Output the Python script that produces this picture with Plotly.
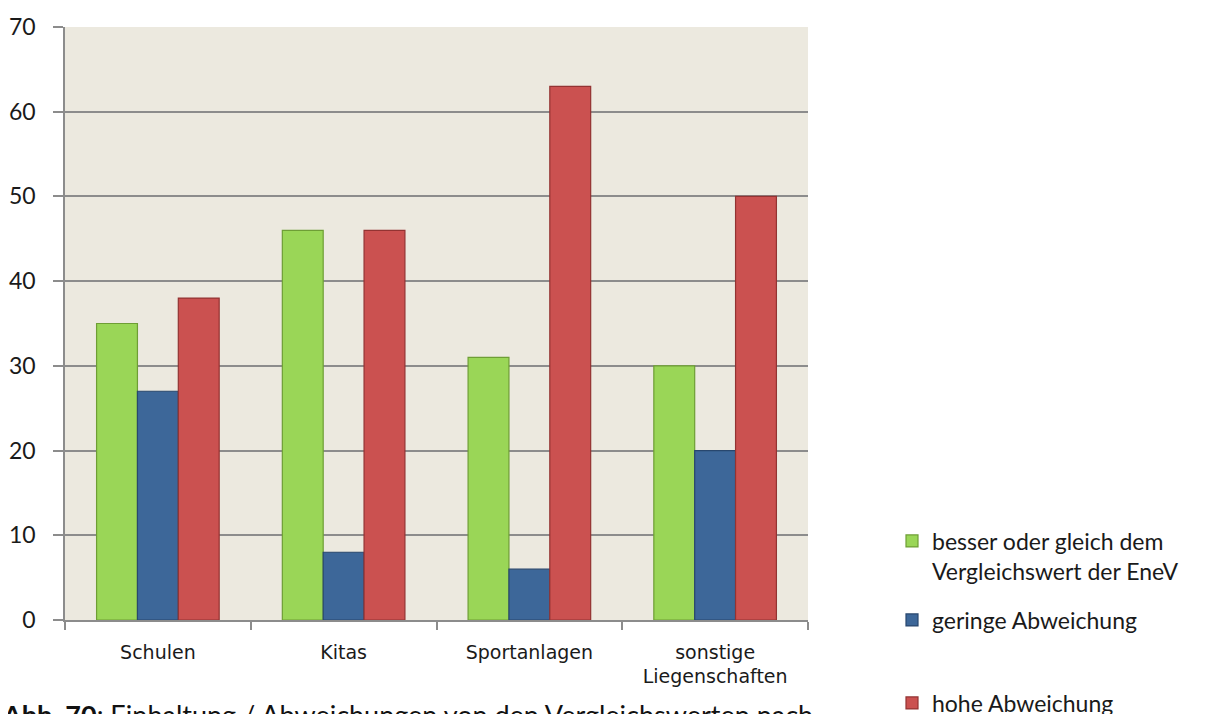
import plotly.graph_objects as go

categories = ["Schulen", "Kitas", "Sportanlagen", "sonstige<br>Liegenschaften"]
series_names = [
    "besser oder gleich dem<br>Vergleichswert der EneV",
    "geringe Abweichung",
    "hohe Abweichung",
]
besser = [35, 46, 31, 30]
gering = [27, 8, 6, 20]
hoch = [38, 46, 63, 50]
y_ticks = [0, 10, 20, 30, 40, 50, 60, 70]

colors = ["#9AD657", "#3D6799", "#CB5150"]
edges = ["#6E9E35", "#28476E", "#933332"]
values = [besser, gering, hoch]
legends = ["legend", "legend2", "legend3"]

fig = go.Figure()
for name, vals, c, e, lg in zip(series_names, values, colors, edges, legends):
    fig.add_trace(go.Bar(
        x=categories, y=vals, name=name,
        marker=dict(color=c, line=dict(color=e, width=1.2)),
        legend=lg,
    ))

legend_font = dict(family="Lato", size=23, color="#1a1a1a")
common_leg = dict(font=legend_font, bgcolor="rgba(0,0,0,0)", xanchor="left",
                  yanchor="middle", itemwidth=30, valign="top",
                  tracegroupgap=0, itemclick=False)

# page is offset by the default 8px body margin
OFF = 8
PLOT_TOP = 27 - OFF
PLOT_BOTTOM = 620 - OFF
PLOT_LEFT = 65 - OFF
PLOT_H = 593.0
PLOT_W = 743.0
FIG_W = 1219 - OFF
FIG_H = 714 - OFF


def py(page_y):
    return (620 - page_y) / PLOT_H


def px(page_x):
    return (page_x - 65) / PLOT_W


fig.update_layout(
    width=FIG_W, height=FIG_H,
    margin=dict(l=PLOT_LEFT, r=FIG_W - (PLOT_LEFT + 743), t=PLOT_TOP,
                b=FIG_H - PLOT_BOTTOM, autoexpand=False),
    paper_bgcolor="white",
    plot_bgcolor="#ECE9DF",
    barmode="group",
    bargap=0.34,
    bargroupgap=0,
    showlegend=True,
    legend=dict(x=px(892), y=py(556), **common_leg),
    legend2=dict(x=px(892), y=py(620), **common_leg),
    legend3=dict(x=px(892), y=py(703), **common_leg),
    xaxis=dict(
        type="category",
        showline=True, linecolor="#8C8C8C", linewidth=1.5,
        ticks="outside", tickson="boundaries", ticklen=8,
        tickcolor="#8C8C8C", tickwidth=1.5,
        tickfont=dict(family="DejaVu Sans", size=19, color="#1a1a1a"),
        ticklabelstandoff=14,
        showgrid=False,
    ),
    yaxis=dict(
        range=[0, 70], tickvals=y_ticks,
        showline=True, linecolor="#8C8C8C", linewidth=1.5,
        ticks="outside", ticklen=10, tickcolor="#8C8C8C", tickwidth=1.5,
        showgrid=True, gridcolor="#8C8C8C", gridwidth=1.5,
        zeroline=False,
        tickfont=dict(family="Lato", size=23, color="#1a1a1a"),
        ticklabelstandoff=13,
    ),
    annotations=[dict(
        text="<b>Abb. 70</b>: Einhaltung / Abweichungen von den Vergleichswerten nach",
        xref="paper", yref="paper", x=px(0), y=py(696),
        xanchor="left", yanchor="top", showarrow=False,
        font=dict(family="Lato", size=27, color="#111111"),
    )],
)

fig.write_html("out.html")
